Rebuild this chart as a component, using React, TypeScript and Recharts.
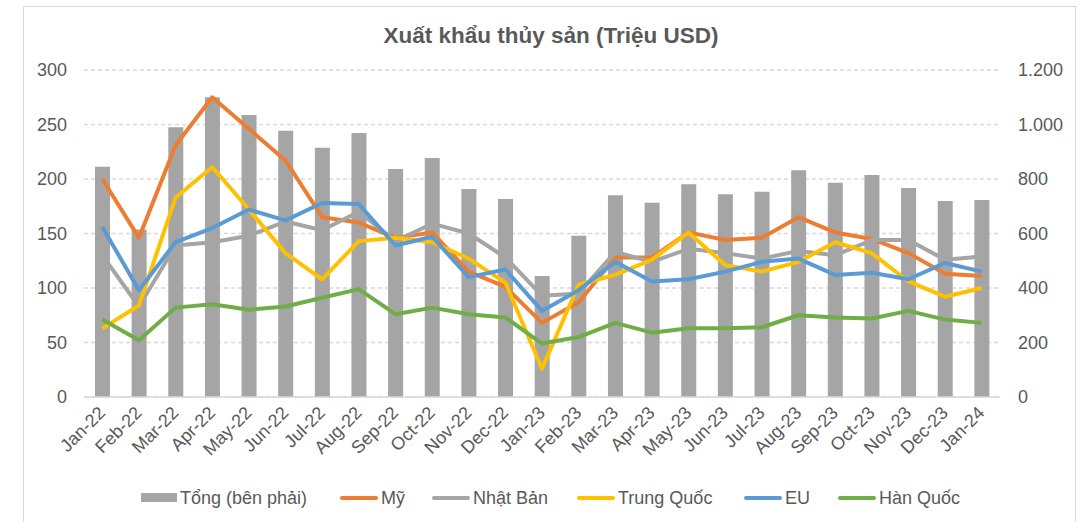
import React from "react";
import {
  ComposedChart,
  Bar,
  Line,
  XAxis,
  YAxis,
  CartesianGrid,
} from "recharts";

const months = [
  "Jan-22", "Feb-22", "Mar-22", "Apr-22", "May-22", "Jun-22", "Jul-22", "Aug-22",
  "Sep-22", "Oct-22", "Nov-22", "Dec-22", "Jan-23", "Feb-23", "Mar-23", "Apr-23",
  "May-23", "Jun-23", "Jul-23", "Aug-23", "Sep-23", "Oct-23", "Nov-23", "Dec-23", "Jan-24",
];

const tong = [845, 615, 990, 1100, 1035, 977, 915, 969, 837, 877, 763, 727, 444, 592, 740, 713, 781, 744, 753, 832, 786, 815, 767, 719, 723];
const my = [200, 146, 231, 275, 246, 217, 165, 160, 146, 151, 115, 101, 68, 87, 128, 128, 151, 144, 146, 165, 151, 145, 132, 113, 111];
const nhatBan = [130, 83, 139, 142, 148, 161, 153, 170, 143, 159, 150, 128, 93, 95, 133, 124, 136, 132, 127, 134, 130, 144, 144, 126, 129];
const trungQuoc = [63, 84, 183, 211, 172, 132, 108, 143, 146, 142, 127, 105, 26, 103, 112, 126, 151, 121, 115, 124, 142, 132, 106, 92, 100];
const eu = [156, 98, 142, 155, 172, 162, 178, 177, 139, 147, 110, 117, 79, 98, 124, 106, 108, 115, 124, 127, 112, 114, 108, 123, 115];
const hanQuoc = [71, 52, 82, 85, 80, 83, 91, 99, 76, 82, 76, 73, 49, 55, 68, 59, 63, 63, 64, 75, 73, 72, 79, 71, 68];

const leftTicks = [0, 50, 100, 150, 200, 250, 300];
const rightTicks = [0, 200, 400, 600, 800, 1000, 1200];

const seriesNames = {
  tong: "Tổng (bên phải)",
  my: "Mỹ",
  nhatBan: "Nhật Bản",
  trungQuoc: "Trung Quốc",
  eu: "EU",
  hanQuoc: "Hàn Quốc",
};

const data = months.map((m, i) => ({
  month: m,
  tong: tong[i],
  my: my[i],
  nhatBan: nhatBan[i],
  trungQuoc: trungQuoc[i],
  eu: eu[i],
  hanQuoc: hanQuoc[i],
}));

const FONT = "'Liberation Sans', Arial, sans-serif";
const TEXT = "#595959";

const fmtThousands = (v: number) =>
  String(v).replace(/\B(?=(\d{3})+(?!\d))/g, ".");

const XTick = (props: any) => {
  const { x, payload } = props;
  const ax = x + 4;
  const ay = 414;
  return (
    <text
      x={ax}
      y={ay}
      textAnchor="end"
      transform={`rotate(-45, ${ax}, ${ay})`}
      fill={TEXT}
      fontSize={18}
      fontFamily={FONT}
    >
      {payload.value}
    </text>
  );
};

const legendItems = [
  { key: "tong", color: "#a5a5a5", type: "bar", left: 141 },
  { key: "my", color: "#ed7d31", type: "line", left: 340 },
  { key: "nhatBan", color: "#a5a5a5", type: "line", left: 432 },
  { key: "trungQuoc", color: "#ffc000", type: "line", left: 577 },
  { key: "eu", color: "#5b9bd5", type: "line", left: 744 },
  { key: "hanQuoc", color: "#70ad47", type: "line", left: 838 },
];

export default function App() {
  return (
    <div
      style={{
        position: "absolute",
        left: 0,
        top: 0,
        width: 1086,
        height: 522,
        overflow: "hidden",
        background: "#fff",
        fontFamily: FONT,
      }}
    >
      <div
        style={{
          position: "absolute",
          left: 23,
          top: 6,
          width: 1051,
          height: 520,
          border: "1px solid #d9d9d9",
          borderBottom: "none",
        }}
      />
      <div
        style={{
          position: "absolute",
          left: 251,
          top: 25,
          width: 600,
          textAlign: "center",
          fontSize: 22.5,
          lineHeight: 1,
          fontWeight: "bold",
          color: TEXT,
          whiteSpace: "nowrap",
        }}
      >
        Xuất khẩu thủy sản (Triệu USD)
      </div>
      <div style={{ position: "absolute", left: 0, top: 0 }}>
        <ComposedChart
          width={1086}
          height={522}
          data={data}
          margin={{ top: 70, right: 0, left: 0, bottom: 0 }}
        >
          <CartesianGrid
            yAxisId="left"
            vertical={false}
            stroke="#d9d9d9"
            strokeDasharray="4 3"
            strokeWidth={1.3}
          />
          <XAxis
            dataKey="month"
            height={125}
            interval={0}
            tickLine={false}
            axisLine={{ stroke: "#d9d9d9", strokeWidth: 1.5 }}
            tick={<XTick />}
          />
          <YAxis
            yAxisId="left"
            orientation="left"
            width={84}
            domain={[0, 300]}
            ticks={leftTicks}
            interval={0}
            axisLine={false}
            tickLine={false}
            tickSize={6}
            tickMargin={11}
            tick={{ fill: TEXT, fontSize: 18, fontFamily: FONT }}
          />
          <YAxis
            yAxisId="right"
            orientation="right"
            width={86}
            domain={[0, 1200]}
            ticks={rightTicks}
            interval={0}
            axisLine={false}
            tickLine={false}
            tickSize={6}
            tickMargin={12}
            tickFormatter={fmtThousands}
            tick={{ fill: TEXT, fontSize: 18, fontFamily: FONT }}
          />
          <Bar
            yAxisId="right"
            dataKey="tong"
            name={seriesNames.tong}
            fill="#a5a5a5"
            barSize={15}
            isAnimationActive={false}
          />
          <Line
            yAxisId="left"
            type="linear"
            dataKey="my"
            name={seriesNames.my}
            stroke="#ed7d31"
            strokeWidth={4}
            strokeLinejoin="round"
            dot={false}
            activeDot={false}
            isAnimationActive={false}
          />
          <Line
            yAxisId="left"
            type="linear"
            dataKey="nhatBan"
            name={seriesNames.nhatBan}
            stroke="#a5a5a5"
            strokeWidth={4}
            strokeLinejoin="round"
            dot={false}
            activeDot={false}
            isAnimationActive={false}
          />
          <Line
            yAxisId="left"
            type="linear"
            dataKey="trungQuoc"
            name={seriesNames.trungQuoc}
            stroke="#ffc000"
            strokeWidth={4}
            strokeLinejoin="round"
            dot={false}
            activeDot={false}
            isAnimationActive={false}
          />
          <Line
            yAxisId="left"
            type="linear"
            dataKey="eu"
            name={seriesNames.eu}
            stroke="#5b9bd5"
            strokeWidth={4}
            strokeLinejoin="round"
            dot={false}
            activeDot={false}
            isAnimationActive={false}
          />
          <Line
            yAxisId="left"
            type="linear"
            dataKey="hanQuoc"
            name={seriesNames.hanQuoc}
            stroke="#70ad47"
            strokeWidth={4}
            strokeLinejoin="round"
            dot={false}
            activeDot={false}
            isAnimationActive={false}
          />
        </ComposedChart>
      </div>
      {legendItems.map((it) => (
        <div
          key={it.key}
          style={{
            position: "absolute",
            left: it.left,
            top: 488,
            height: 19,
            display: "flex",
            alignItems: "center",
            whiteSpace: "nowrap",
            fontSize: 18,
            lineHeight: 1,
            color: TEXT,
          }}
        >
          <span
            style={{
              display: "inline-block",
              width: it.type === "bar" ? 36 : 38,
              height: it.type === "bar" ? 9 : 4,
              background: it.color,
              borderRadius: it.type === "bar" ? 0 : 2,
              marginRight: 3,
            }}
          />
          <span>{(seriesNames as any)[it.key]}</span>
        </div>
      ))}
    </div>
  );
}
